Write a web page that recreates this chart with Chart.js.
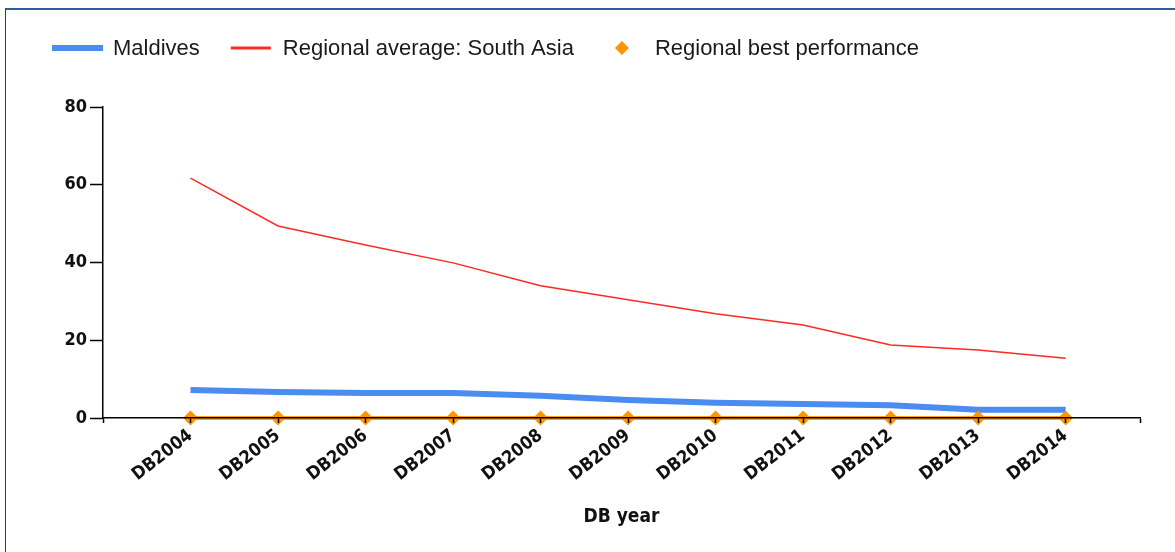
<!DOCTYPE html>
<html>
<head>
<meta charset="utf-8">
<script src="https://cdn.jsdelivr.net/npm/chart.js@4"></script>
<style>
  html, body { margin: 0; padding: 0; background: #fff; }
  #wrap { position: relative; width: 1175px; height: 552px; overflow: hidden; }
  #frame {
    position: absolute; left: 5px; top: 8px; width: 1200px; height: 600px;
    border-left: 1px solid #1f3c70; border-top: 2px solid #2a5ea6; box-sizing: border-box;
  }
  canvas { position: absolute; left: 0; top: 0; }
</style>
</head>
<body>
<div id="wrap">
  <div id="frame"></div>
  <canvas id="chart" width="1175" height="552"></canvas>
</div>
<script>
// ===== Data =====
const years = [2004, 2005, 2006, 2007, 2008, 2009, 2010, 2011, 2012, 2013, 2014];
const yearLabels = ['DB2004', 'DB2005', 'DB2006', 'DB2007', 'DB2008', 'DB2009',
  'DB2010', 'DB2011', 'DB2012', 'DB2013', 'DB2014'];
const maldives = [7.2, 6.7, 6.4, 6.4, 5.7, 4.6, 3.9, 3.6, 3.3, 2.1, 2.1];
const southAsia = [61.7, 49.4, 44.5, 39.9, 34.0, 30.4, 26.8, 23.9, 18.8, 17.5, 15.4];
const bestPerformance = [0, 0, 0, 0, 0, 0, 0, 0, 0, 0, 0];
const yTicks = [0, 20, 40, 60, 80];

const toPoints = (vals) => years.map((yr, i) => ({ x: yr, y: vals[i] }));

// ===== Legend drawn in one row on top =====
const legendRow = {
  id: 'legendRow',
  afterDraw(chart) {
    const ctx = chart.ctx;
    const samples = [51, 40, 34];
    const gaps = [10, 12, 16];
    let x = 52;
    const y = 48;
    ctx.save();
    ctx.font = '22px "Liberation Sans", Arial, sans-serif';
    ctx.textBaseline = 'middle';
    chart.data.datasets.forEach((ds, i) => {
      const w = samples[i];
      if (ds.legendMarker === 'diamond') {
        const cx = x + w / 2, r = 7;
        ctx.fillStyle = ds.pointBackgroundColor;
        ctx.beginPath();
        ctx.moveTo(cx, y - r);
        ctx.lineTo(cx + r, y);
        ctx.lineTo(cx, y + r);
        ctx.lineTo(cx - r, y);
        ctx.closePath();
        ctx.fill();
      } else {
        ctx.strokeStyle = ds.borderColor;
        ctx.lineWidth = ds.legendWidth;
        ctx.beginPath();
        ctx.moveTo(x, y);
        ctx.lineTo(x + w, y);
        ctx.stroke();
      }
      x += w + gaps[i];
      ctx.fillStyle = '#1a1a1a';
      ctx.fillText(ds.label, x, y + 1);
      x += ctx.measureText(ds.label).width + 31;
    });
    ctx.restore();
  }
};

const tickFont = { family: '"DejaVu Sans Condensed", "DejaVu Sans", sans-serif', size: 18, weight: 'bold' };

new Chart(document.getElementById('chart'), {
  type: 'line',
  data: {
    datasets: [
      {
        label: 'Maldives',
        data: toPoints(maldives),
        borderColor: '#4a8cf0',
        borderWidth: 6,
        legendWidth: 6,
        pointRadius: 0,
        tension: 0,
        order: 2,
      },
      {
        label: 'Regional average: South Asia',
        data: toPoints(southAsia),
        borderColor: '#ff2a22',
        borderWidth: 1.5,
        legendWidth: 3,
        pointRadius: 0,
        tension: 0,
        order: 1,
      },
      {
        label: 'Regional best performance',
        data: toPoints(bestPerformance),
        legendMarker: 'diamond',
        borderColor: '#ffa020',
        borderWidth: 4,
        pointStyle: 'rectRot',
        pointRadius: 7.5,
        pointBackgroundColor: '#ff9500',
        pointBorderWidth: 0,
        clip: false,
        order: 0,
      },
    ],
  },
  options: {
    responsive: false,
    animation: false,
    layout: { padding: { top: 107, left: 42, right: 35, bottom: 20 } },
    plugins: {
      legend: { display: false },
      tooltip: { enabled: false },
    },
    scales: {
      x: {
        type: 'linear',
        min: 2003,
        max: 2014.85,
        afterFit: (axis) => { axis.height = 114; },
        border: { color: '#000', width: 1.5, z: 1 },
        grid: { drawOnChartArea: false, color: '#000', tickLength: 5, tickWidth: 1.5, z: 1 },
        ticks: {
          stepSize: 1,
          minRotation: 38,
          maxRotation: 38,
          autoSkip: false,
          padding: 2,
          color: '#111',
          font: tickFont,
          callback: (v) => {
            const i = years.indexOf(v);
            return i >= 0 ? yearLabels[i] : '';
          },
        },
        title: {
          display: true,
          text: 'DB year',
          color: '#111',
          font: { ...tickFont, size: 19 },
          padding: { top: 4, bottom: 4 },
        },
      },
      y: {
        min: 0,
        max: 80,
        afterFit: (axis) => { axis.width = 61; },
        afterBuildTicks: (axis) => { axis.ticks = yTicks.map((v) => ({ value: v })); },
        border: { color: '#000', width: 1.5, z: 1 },
        grid: { drawOnChartArea: false, color: '#000', tickLength: 13, tickWidth: 1.5, z: 1 },
        ticks: { color: '#111', font: tickFont, padding: 3 },
      },
    },
  },
  plugins: [legendRow],
});
</script>
</body>
</html>
